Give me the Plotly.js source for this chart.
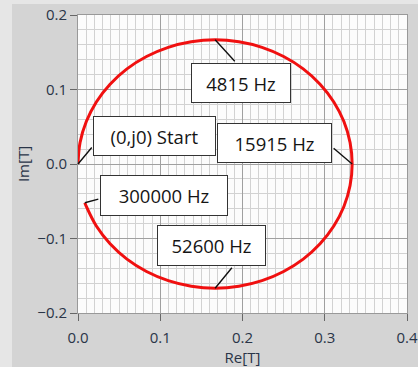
<!DOCTYPE html>
<html>
<head>
<meta charset="utf-8">
<script src="https://cdn.plot.ly/plotly-3.0.1.min.js"></script>
<style>
html,body{margin:0;padding:0;background:#e6e6e6;width:418px;height:367px;overflow:hidden;}
#plot{position:absolute;left:12px;top:4px;width:406px;height:363px;}
</style>
</head>
<body>
<div id="plot"></div>
<script>
// Nyquist curve (Re[T], Im[T])
const reT = [0, 0.0025, 0.0101, 0.0223, 0.0390, 0.0595, 0.0833, 0.1097, 0.1377, 0.1667,
  0.1956, 0.2237, 0.2500, 0.2738, 0.2943, 0.3110, 0.3233, 0.3308, 0.3333,
  0.3308, 0.3233, 0.3110, 0.2943, 0.2738, 0.2500, 0.2237, 0.1956, 0.1667,
  0.1377, 0.1097, 0.0833, 0.0595, 0.0390, 0.0223, 0.0101, 0.0083];
const imT = [0, 0.0289, 0.0570, 0.0833, 0.1071, 0.1277, 0.1443, 0.1566, 0.1641, 0.1667,
  0.1641, 0.1566, 0.1443, 0.1277, 0.1071, 0.0833, 0.0570, 0.0289, 0,
  -0.0289, -0.0570, -0.0833, -0.1071, -0.1277, -0.1443, -0.1566, -0.1641, -0.1667,
  -0.1641, -0.1566, -0.1443, -0.1277, -0.1071, -0.0833, -0.0570, -0.0520];

// Labelled points on the curve
const labelText = ["4815 Hz", "(0,j0) Start", "15915 Hz", "300000 Hz", "52600 Hz"];
const labelRe = [0.1667, 0, 0.3333, 0.0083, 0.1667];
const labelIm = [0.1667, 0, 0, -0.0520, -0.1667];

// Layout of the label boxes (box centre in data units, size in px, leader offset in px)
const boxX = [0.1978, 0.0930, 0.2387, 0.1048, 0.1621];
const boxY = [0.1087, 0.0372, 0.0286, -0.0427, -0.1094];
const boxW = [100, 123, 115, 128, 109];
const boxH = [40, 40, 40, 41, 41];
const leadAx = [21, 15, -20, 15, 18];
const leadAy = [23, -18, -17, -4, -22];

const trace = {
  x: reT, y: imT, type: 'scatter', mode: 'lines',
  line: {color: '#f01010', width: 3, shape: 'spline'},
  hoverinfo: 'skip'
};

const annotations = [];
for (let i = 0; i < labelText.length; i++) {
  annotations.push({
    xref: 'x', yref: 'y', x: labelRe[i], y: labelIm[i],
    ax: leadAx[i], ay: leadAy[i], axref: 'pixel', ayref: 'pixel',
    text: '', showarrow: true, arrowhead: 0, arrowwidth: 1.4,
    arrowcolor: '#111', standoff: 0, startstandoff: 0
  });
}
for (let i = 0; i < labelText.length; i++) {
  annotations.push({
    xref: 'x', yref: 'y', x: boxX[i], y: boxY[i],
    xanchor: 'center', yanchor: 'middle',
    text: labelText[i], showarrow: false,
    width: boxW[i] - 4, height: boxH[i] - 4,
    bgcolor: '#ffffff', bordercolor: '#333333', borderwidth: 1, borderpad: 1,
    font: {family: 'Open Sans', size: 18.5, color: '#151515'}
  });
}

const tickFont = {family: 'Open Sans', size: 15, color: '#2a3548'};

const layout = {
  width: 406, height: 363,
  margin: {l: 66, r: 11, t: 11, b: 54},
  paper_bgcolor: '#d4d4d4',
  plot_bgcolor: '#fcfcfc',
  showlegend: false,
  xaxis: {
    range: [0, 0.4], dtick: 0.1, tick0: 0, tickformat: '.1f',
    showgrid: true, gridcolor: '#a0a0a0', gridwidth: 1,
    minor: {dtick: 0.01, showgrid: true, gridcolor: '#d2d2d2', gridwidth: 1, ticks: ''},
    zeroline: false, showline: true, linecolor: '#999999', linewidth: 1, mirror: true,
    ticks: 'outside', ticklen: 7, tickcolor: '#666', tickwidth: 1,
    ticklabelstandoff: 4,
    tickfont: tickFont,
    title: {text: 'Re[T]', font: tickFont, standoff: 4}
  },
  yaxis: {
    range: [-0.2, 0.2], dtick: 0.1, tick0: 0, tickformat: '.1f',
    showgrid: true, gridcolor: '#a0a0a0', gridwidth: 1,
    minor: {dtick: 0.02, showgrid: true, gridcolor: '#d2d2d2', gridwidth: 1, ticks: ''},
    zeroline: false, showline: true, linecolor: '#999999', linewidth: 1, mirror: true,
    ticks: 'outside', ticklen: 7, tickcolor: '#666', tickwidth: 1,
    tickfont: tickFont,
    title: {text: 'Im[T]', font: tickFont, standoff: 4}
  },
  annotations: annotations
};

Plotly.newPlot('plot', [trace], layout, {displayModeBar: false, staticPlot: true});
</script>
</body>
</html>
